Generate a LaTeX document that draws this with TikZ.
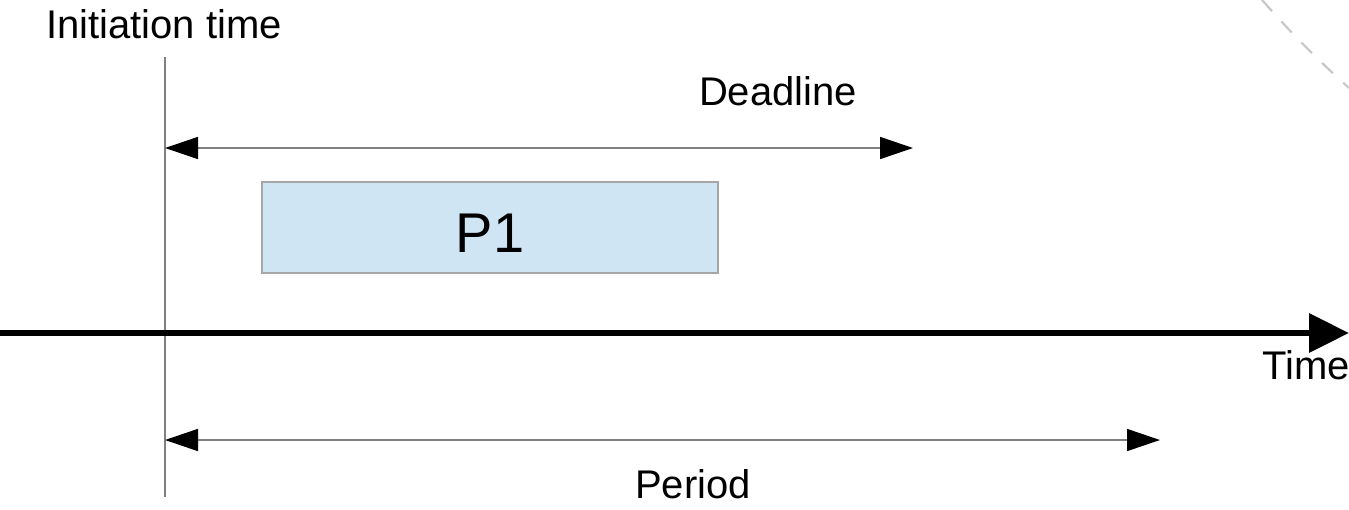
\documentclass[tikz,border=0pt]{standalone}
\usepackage{fontspec}
\setmainfont{Liberation Sans}
\usetikzlibrary{arrows.meta}
\definecolor{guidegray}{HTML}{808080}
\definecolor{boxfill}{HTML}{CFE5F3}
\definecolor{boxline}{HTML}{A6A6A6}
\definecolor{arcgray}{HTML}{C8C8C8}
\tikzset{
  guide/.style={draw=guidegray, line width=0.8pt},
  span/.style={guide, {Triangle[length=16.5pt,width=11pt,color=black]}-{Triangle[length=16.5pt,width=11pt,color=black]}},
  axis/.style={draw=black, line width=3.3pt, -{Triangle[length=20pt,width=19pt]}},
  label/.style={anchor=base, inner sep=0pt, font=\fontsize{20pt}{24pt}\selectfont},
  task/.style={draw=boxline, fill=boxfill, line width=0.7pt}
}
\begin{document}
\begin{tikzpicture}[x=0.5pt,y=-0.5pt]
\useasboundingbox (0,0) rectangle (1349,509);

% faint dashed arc in the upper right corner
\coordinate (arcA) at (1262,0);
\coordinate (arcB) at (1349,88);
\draw[arcgray, line width=1.1pt, dash pattern=on 7.5pt off 7pt] (arcA) to[bend right=3] (arcB);

% reference points
\coordinate (initTop) at (165,57);
\coordinate (initBot) at (165,497);
\coordinate (dlStart) at (165,148);
\coordinate (dlEnd) at (913,148);
\coordinate (prStart) at (165,440);
\coordinate (prEnd) at (1160,440);
\coordinate (axStart) at (0,333);
\coordinate (axEnd) at (1349,333);

% initiation marker
\draw[guide] (initTop) -- (initBot);

% task box
\node[task, minimum width=228pt, minimum height=45.5pt, inner sep=0pt] (p1box) at (490,227.5) {};
\node[label, font=\fontsize{28pt}{33pt}\selectfont] (p1) at (490,252) {P1};

% time axis
\draw[axis] (axStart) -- (axEnd);

% deadline and period spans
\draw[span] (dlStart) -- (dlEnd);
\draw[span] (prStart) -- (prEnd);

% labels
\node[label] (init) at (164,38) {Initiation time};
\node[label] (deadline) at (778,105) {Deadline};
\node[label, anchor=base east] (time) at (1350,379) {Time};
\node[label] (period) at (693,498) {Period};
\end{tikzpicture}
\end{document}
